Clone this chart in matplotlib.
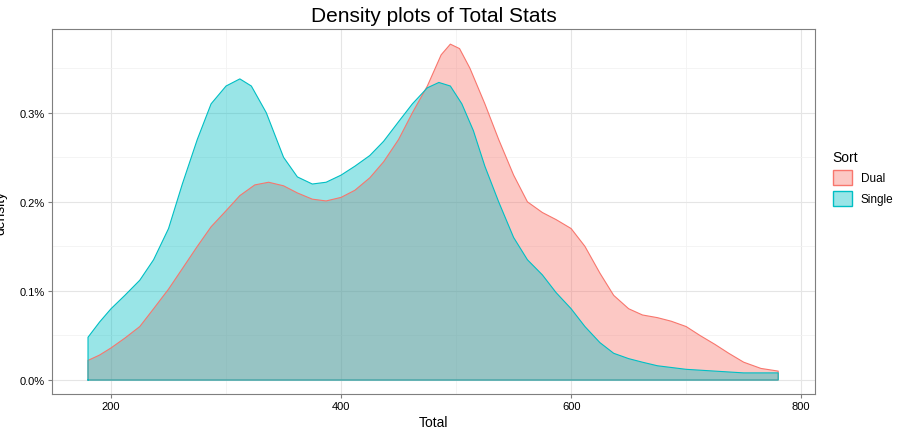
import numpy as np
import matplotlib.pyplot as plt
from matplotlib.patches import Patch

plt.rcParams['font.family'] = ['Liberation Sans', 'DejaVu Sans']

dual_x = [180, 190, 200, 212, 225, 237, 250, 262, 275, 287, 300, 312, 325, 337, 350, 362, 375, 387, 400, 412, 425, 437, 450, 462, 475, 487, 495, 503, 512, 525, 537, 550, 562, 575, 587, 600, 612, 625, 637, 650, 662, 675, 687, 700, 712, 725, 737, 750, 765, 780]
dual_y = [0.00022, 0.00028, 0.00036, 0.00047, 0.0006, 0.0008, 0.00102, 0.00125, 0.0015, 0.00172, 0.0019, 0.00207, 0.00219, 0.00222, 0.00218, 0.0021, 0.00203, 0.00201, 0.00205, 0.00213, 0.00227, 0.00245, 0.0027, 0.003, 0.0033, 0.00365, 0.00377, 0.00372, 0.0035, 0.0031, 0.0027, 0.0023, 0.002, 0.00188, 0.0018, 0.0017, 0.0015, 0.0012, 0.00095, 0.0008, 0.00073, 0.0007, 0.00066, 0.0006, 0.0005, 0.0004, 0.0003, 0.0002, 0.00013, 0.0001]
single_x = [180, 190, 200, 212, 225, 237, 250, 262, 275, 287, 300, 312, 322, 335, 350, 362, 375, 387, 400, 412, 425, 437, 450, 462, 475, 485, 495, 505, 515, 525, 537, 550, 562, 575, 587, 600, 612, 625, 637, 650, 662, 675, 700, 725, 750, 780]
single_y = [0.00048, 0.00065, 0.0008, 0.00095, 0.00112, 0.00135, 0.0017, 0.0022, 0.0027, 0.0031, 0.0033, 0.00338, 0.0033, 0.003, 0.0025, 0.00228, 0.0022, 0.00222, 0.0023, 0.0024, 0.00252, 0.00268, 0.0029, 0.0031, 0.00328, 0.00334, 0.0033, 0.0031, 0.0028, 0.0024, 0.002, 0.0016, 0.00135, 0.00118, 0.00098, 0.0008, 0.0006, 0.00042, 0.0003, 0.00024, 0.0002, 0.00016, 0.00012, 0.0001, 0.00008, 0.00008]

red = '#F8766D'
cyan = '#00BFC4'

fig = plt.figure(figsize=(9.03, 4.35), dpi=100)
ax = fig.add_axes([52/903, 40/435, 763/903, 365/435])

for xs, ys, c in [(dual_x, dual_y, red), (single_x, single_y, cyan)]:
    ax.fill_between(xs, ys, 0, facecolor=c, alpha=0.4, linewidth=0)
    ax.plot([xs[0]] + xs + [xs[-1], xs[0]], [0] + ys + [0, 0], color=c, linewidth=0.8)

ax.set_xlim(148.7, 812)
ax.set_ylim(-0.000157, 0.00394)
ax.set_xticks([200, 400, 600, 800])
ax.set_xticks([300, 500, 700], minor=True)
ax.set_yticks([0, 0.001, 0.002, 0.003])
ax.set_yticks([0.0005, 0.0015, 0.0025, 0.0035], minor=True)
ax.set_yticklabels(['0.0%', '0.1%', '0.2%', '0.3%'])
ax.grid(True, which='major', color='#E5E5E5', linewidth=0.8)
ax.grid(True, which='minor', color='#F2F2F2', linewidth=0.6)
ax.set_axisbelow(True)
for s in ax.spines.values():
    s.set_color('#7F7F7F')
    s.set_linewidth(0.8)
ax.tick_params(which='major', colors='#7F7F7F', labelcolor='black', labelsize=8, length=3, pad=2)
ax.tick_params(which='minor', length=0)
ax.set_xlabel('Total', fontsize=10, labelpad=3)
ax.set_ylabel('density', fontsize=10)
ax.yaxis.set_label_coords(-45/763, 0.5)
ax.set_title('Density plots of Total Stats', fontsize=15, pad=6)

handles = [Patch(facecolor=red + '66', edgecolor=red), Patch(facecolor=cyan + '66', edgecolor=cyan)]
fig.legend(handles, ['Dual', 'Single'], title='Sort', loc='upper left', bbox_to_anchor=(822/903, 295/435),
           frameon=False, fontsize=8.5, title_fontsize=10, handlelength=1.6, handleheight=1.6, alignment='left')

fig.savefig('out.png', dpi=100)
